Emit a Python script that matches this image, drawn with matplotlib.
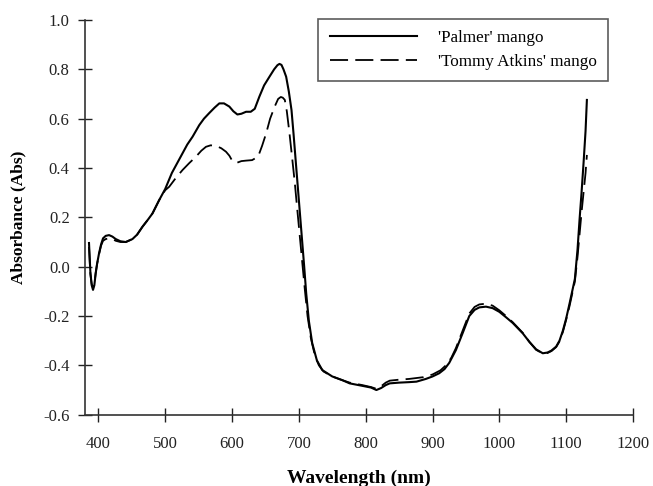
import numpy as np
import matplotlib
matplotlib.use('Agg')
import matplotlib.pyplot as plt

# ----- DATA -----
palmer_nm = [386, 388, 390, 392, 394, 396, 398, 401, 404, 407, 411, 416, 421, 426, 433,
             441, 451, 458, 466, 474, 481, 491, 500, 510, 518, 526, 533, 541, 551, 558,
             566, 574, 581, 588, 596, 602, 608, 614, 621, 628, 634, 641, 648, 656, 663,
             668, 671, 674, 677, 681, 685, 689, 692, 696, 700, 704, 708, 711, 715, 720,
             727, 735, 750, 765, 776, 795, 808, 816, 823, 830, 836, 850, 865, 876, 890,
             900, 910, 918, 925, 935, 945, 955, 963, 970, 980, 990, 1000, 1010, 1020,
             1035, 1045, 1055, 1065, 1072, 1078, 1085, 1090, 1095, 1100, 1105, 1109,
             1113, 1117, 1120, 1123, 1126, 1129, 1131]
palmer_abs = [0.096, -0.02, -0.075, -0.094, -0.075, -0.027, 0.01, 0.054, 0.09, 0.115,
              0.125, 0.128, 0.122, 0.112, 0.103, 0.10, 0.112, 0.13, 0.162, 0.19, 0.216,
              0.27, 0.315, 0.38, 0.42, 0.46, 0.495, 0.527, 0.574, 0.60, 0.623, 0.645,
              0.662, 0.662, 0.649, 0.63, 0.617, 0.62, 0.628, 0.628, 0.64, 0.69, 0.735,
              0.77, 0.80, 0.817, 0.822, 0.818, 0.80, 0.77, 0.71, 0.635, 0.54, 0.405,
              0.27, 0.135, 0.0, -0.108, -0.22, -0.31, -0.38, -0.419, -0.445, -0.46,
              -0.473, -0.483, -0.49, -0.50, -0.492, -0.48, -0.473, -0.47, -0.468,
              -0.466, -0.455, -0.445, -0.432, -0.415, -0.39, -0.338, -0.27, -0.20,
              -0.175, -0.165, -0.162, -0.168, -0.183, -0.205, -0.228, -0.27, -0.305,
              -0.335, -0.351, -0.348, -0.34, -0.324, -0.30, -0.26, -0.21, -0.15, -0.10,
              -0.05, 0.07, 0.19, 0.30, 0.42, 0.55, 0.676]

tommy_nm = [386, 388, 390, 392, 394, 396, 398, 401, 404, 407, 411, 416, 421, 426, 433,
            441, 451, 458, 466, 474, 481, 491, 500, 506, 516, 526, 536, 546, 554, 561,
            568, 576, 584, 591, 596, 601, 608, 614, 621, 630, 639, 645, 651, 657, 664,
            669, 673, 676, 679, 682, 686, 690, 694, 697, 701, 705, 709, 713, 718, 724,
            730, 737, 750, 765, 776, 795, 808, 816, 823, 830, 836, 850, 865, 886, 900,
            912, 920, 928, 935, 945, 955, 963, 970, 980, 990, 1000, 1010, 1020, 1035,
            1045, 1055, 1065, 1072, 1078, 1085, 1090, 1095, 1100, 1105, 1109, 1113,
            1117, 1120, 1123, 1126, 1129, 1131]
tommy_abs = [0.08, -0.03, -0.07, -0.085, -0.07, -0.025, 0.01, 0.05, 0.085, 0.105,
             0.112, 0.115, 0.112, 0.105, 0.10, 0.10, 0.112, 0.13, 0.162, 0.19, 0.216,
             0.27, 0.31, 0.324, 0.36, 0.392, 0.42, 0.446, 0.47, 0.486, 0.492, 0.49,
             0.48, 0.466, 0.45, 0.426, 0.422, 0.428, 0.43, 0.432, 0.446, 0.49, 0.54,
             0.60, 0.65, 0.68, 0.688, 0.685, 0.676, 0.63, 0.54, 0.44, 0.338, 0.25,
             0.135, 0.02, -0.094, -0.20, -0.29, -0.36, -0.40, -0.425, -0.445, -0.46,
             -0.47, -0.48, -0.488, -0.495, -0.485, -0.47, -0.462, -0.458, -0.455,
             -0.448, -0.437, -0.42, -0.40, -0.37, -0.33, -0.26, -0.19, -0.163, -0.153,
             -0.150, -0.158, -0.177, -0.20, -0.225, -0.268, -0.305, -0.337, -0.352,
             -0.35, -0.342, -0.326, -0.303, -0.265, -0.215, -0.16, -0.11, -0.06, 0.04,
             0.13, 0.22, 0.30, 0.38, 0.453]

x_ticks = [400, 500, 600, 700, 800, 900, 1000, 1100, 1200]
y_ticks = [-0.6, -0.4, -0.2, 0.0, 0.2, 0.4, 0.6, 0.8, 1.0]

# ----- PLOT -----
plt.rcParams['font.family'] = ['Liberation Serif', 'DejaVu Serif']

fig = plt.figure(figsize=(6.53, 4.86), dpi=100)
ax = fig.add_axes([85 / 653, 1 - 414.7 / 486, (633 - 85) / 653, (414.7 - 20) / 486])

ax.plot(palmer_nm, palmer_abs, color='black', lw=1.5, label="'Palmer' mango")
ax.plot(tommy_nm, tommy_abs, color='black', lw=1.3, dashes=(10, 4),
        label="'Tommy Atkins' mango")

ax.set_xlim(380, 1200)
ax.set_ylim(-0.6, 1.0)
ax.set_xticks(x_ticks)
ax.set_yticks(y_ticks)
ax.set_yticklabels(['%.1f' % v for v in y_ticks])

for s in ['top', 'right']:
    ax.spines[s].set_visible(False)
for s in ['left', 'bottom']:
    ax.spines[s].set_linewidth(1.2)
    ax.spines[s].set_color('#333333')

ax.tick_params(axis='both', direction='inout', length=10, width=1.0,
               labelsize=12, colors='#222222')
ax.tick_params(axis='x', pad=10)
ax.tick_params(axis='y', pad=6)

ax.set_xlabel('Wavelength (nm)', fontsize=14, fontweight='bold', labelpad=13)
ax.set_ylabel('Absorbance (Abs)', fontsize=12.5, fontweight='bold', labelpad=12)

leg = ax.legend(loc='upper right', bbox_to_anchor=(608 / 653, 1 - 19 / 486),
                bbox_transform=fig.transFigure, fontsize=12.3, frameon=True,
                fancybox=False, handlelength=5.1, handletextpad=1.25,
                labelspacing=0.45, borderpad=0.65, borderaxespad=0)
leg.get_frame().set_edgecolor('#333333')
leg.get_frame().set_linewidth(1.2)

fig.savefig('out.png', dpi=100)
